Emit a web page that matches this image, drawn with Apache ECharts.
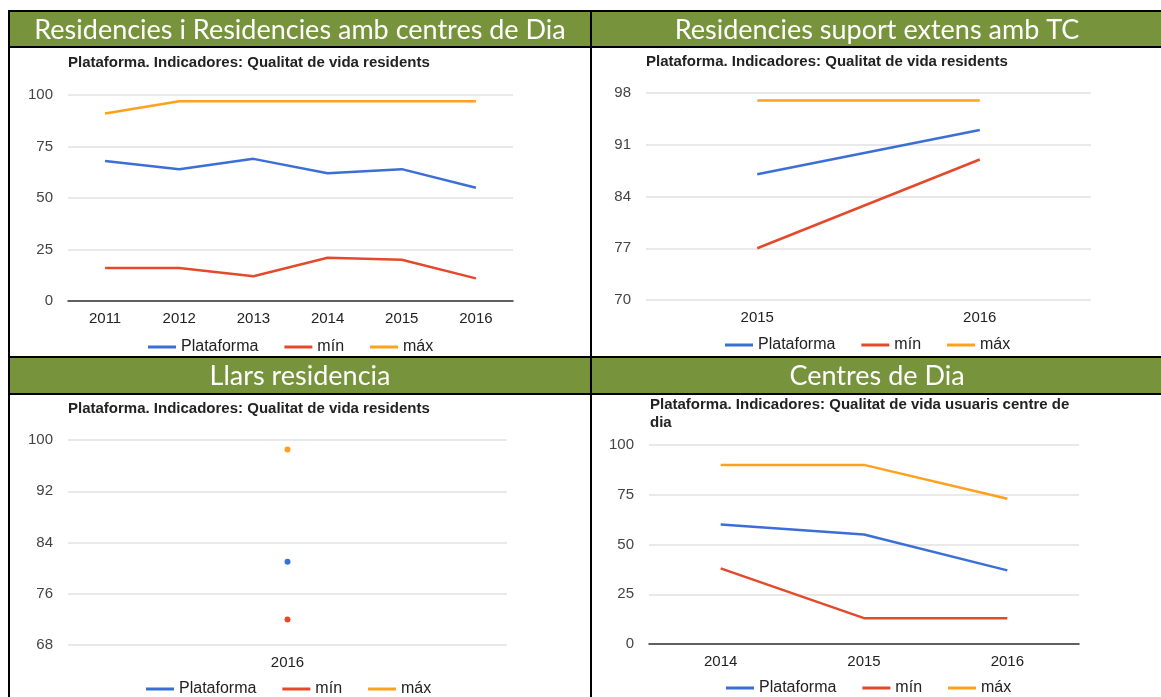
<!DOCTYPE html>
<html><head><meta charset="utf-8">
<script src="https://cdn.jsdelivr.net/npm/echarts@6/dist/echarts.min.js"></script>
<style>html,body{margin:0;padding:0;background:#fff}#c{width:1161px;height:697px}</style>
</head><body><div id="c"></div>
<script>
// ---------- data ----------
const seriesNames = ['Plataforma', 'mín', 'máx'];
const panelTitles = ['Residencies i Residencies amb centres de Dia', 'Residencies suport extens amb TC', 'Llars residencia', 'Centres de Dia'];
const subtitleRes = 'Plataforma. Indicadores: Qualitat de vida residents';
const subtitleDia = 'Plataforma. Indicadores: Qualitat de vida usuaris centre de\ndia';

const yearsA = ['2011', '2012', '2013', '2014', '2015', '2016'];
const plataformaA = [68, 64, 69, 62, 64, 55];
const minA = [16, 16, 12, 21, 20, 11];
const maxA = [91, 97, 97, 97, 97, 97];
const ticksA = [0, 25, 50, 75, 100];

const yearsB = ['2015', '2016'];
const plataformaB = [87, 93];
const minB = [77, 89];
const maxB = [97, 97];
const ticksB = [70, 77, 84, 91, 98];

const yearsC = ['2016'];
const plataformaC = [81];
const minC = [72];
const maxC = [98.5];
const ticksC = [68, 76, 84, 92, 100];

const yearsD = ['2014', '2015', '2016'];
const plataformaD = [60, 55, 37];
const minD = [38, 13, 13];
const maxD = [90, 90, 73];
const ticksD = [0, 25, 50, 75, 100];

// ---------- styling / layout ----------
const COLORS = ['#3c6fd6', '#e34a2b', '#ffa11c'];
const GREEN = '#77933c';
const FONT = '"Liberation Sans", Arial, sans-serif';
const HEAD_FONT = 'Lato, "Open Sans", sans-serif';

const panels = [
  { years: yearsA, vals: [plataformaA, minA, maxA], ticks: ticksA, sub: subtitleRes, baseline: true, dots: false,
    grid: { left: 68, top: 95, width: 445, height: 206 }, subPos: [68, 54], legend: [148, 338] },
  { years: yearsB, vals: [plataformaB, minB, maxB], ticks: ticksB, sub: subtitleRes, baseline: false, dots: false,
    grid: { left: 646, top: 93, width: 445, height: 207 }, subPos: [646, 53], legend: [725, 336] },
  { years: yearsC, vals: [plataformaC, minC, maxC], ticks: ticksC, sub: subtitleRes, baseline: false, dots: true, shift: true,
    grid: { left: 68, top: 440, width: 439, height: 205 }, subPos: [68, 400], legend: [146, 680] },
  { years: yearsD, vals: [plataformaD, minD, maxD], ticks: ticksD, sub: subtitleDia, baseline: true, dots: false,
    grid: { left: 649, top: 445, width: 430, height: 199 }, subPos: [650, 396], legend: [726, 679] }
];

const grid = [], xAxis = [], yAxis = [], series = [], legend = [];
panels.forEach((p, i) => {
  grid.push(Object.assign({ containLabel: false }, p.grid));
  const t0 = p.ticks[0], tN = p.ticks[p.ticks.length - 1], step = p.ticks[1] - p.ticks[0];
  const base = p.shift ? t0 : 0;
  xAxis.push({
    type: 'category', gridIndex: i, data: p.years, boundaryGap: true,
    axisTick: { show: false },
    axisLine: { show: p.baseline, lineStyle: { color: '#333', width: 1.5 } },
    axisLabel: { color: '#222', fontSize: 15, fontFamily: FONT, margin: 10 }
  });
  yAxis.push({
    type: 'value', gridIndex: i, min: t0 - base, max: tN - base, interval: step,
    axisLine: { show: false }, axisTick: { show: false },
    splitLine: { show: true, lineStyle: { color: '#e2e2e2', width: 1.5 } },
    axisLabel: { color: '#444', fontSize: 15, fontFamily: FONT, margin: 15, formatter: v => String(v + base) }
  });
  seriesNames.forEach((name, k) => {
    series.push({
      type: 'line', name, xAxisIndex: i, yAxisIndex: i,
      data: p.vals[k].map(v => v - base),
      color: COLORS[k],
      lineStyle: { width: 2.5, color: COLORS[k] },
      showSymbol: p.dots, symbol: 'circle', symbolSize: 6,
      itemStyle: { color: COLORS[k] },
      animation: false, z: 3 + (2 - k)
    });
  });
  legend.push({
    left: p.legend[0], top: p.legend[1], padding: 0, orient: 'horizontal',
    data: seriesNames.slice(), icon: 'rect', itemWidth: 28, itemHeight: 3, itemGap: 26,
    selectedMode: false,
    textStyle: { color: '#222', fontSize: 16, fontFamily: FONT, lineHeight: 18 }
  });
});

const graphic = [];
// green header bands
[[10, 12, 580, 34], [592, 12, 569, 34], [10, 358, 580, 35], [592, 358, 569, 35]].forEach(r => {
  graphic.push({ type: 'rect', shape: { x: r[0], y: r[1], width: r[2], height: r[3] }, style: { fill: GREEN }, silent: true });
});
// black borders
[[8, 10, 1153, 2], [8, 46, 1153, 2], [8, 356, 1153, 2], [8, 393, 1153, 2], [8, 10, 2, 687], [590, 10, 2, 687]].forEach(r => {
  graphic.push({ type: 'rect', shape: { x: r[0], y: r[1], width: r[2], height: r[3] }, style: { fill: '#000' }, silent: true, z: 10 });
});
// header titles
[[300, 30], [877, 30], [300, 376], [877, 376]].forEach((pos, i) => {
  graphic.push({ type: 'text', x: pos[0], y: pos[1], silent: true, z: 11,
    style: { text: panelTitles[i], fill: '#fff', font: '27px ' + HEAD_FONT, textAlign: 'center', textVerticalAlign: 'middle' } });
});
// chart subtitles (y = top of first line)
panels.forEach(p => {
  graphic.push({ type: 'text', x: p.subPos[0], y: p.subPos[1], silent: true, z: 11,
    style: { text: p.sub, fill: '#222', font: 'bold 15px ' + FONT, textAlign: 'left', textVerticalAlign: 'top', lineHeight: 18 } });
});

const chart = echarts.init(document.getElementById('c'), null, { renderer: 'canvas' });
chart.setOption({ animation: false, backgroundColor: '#fff', grid, xAxis, yAxis, series, legend, graphic });
</script>
</body></html>
